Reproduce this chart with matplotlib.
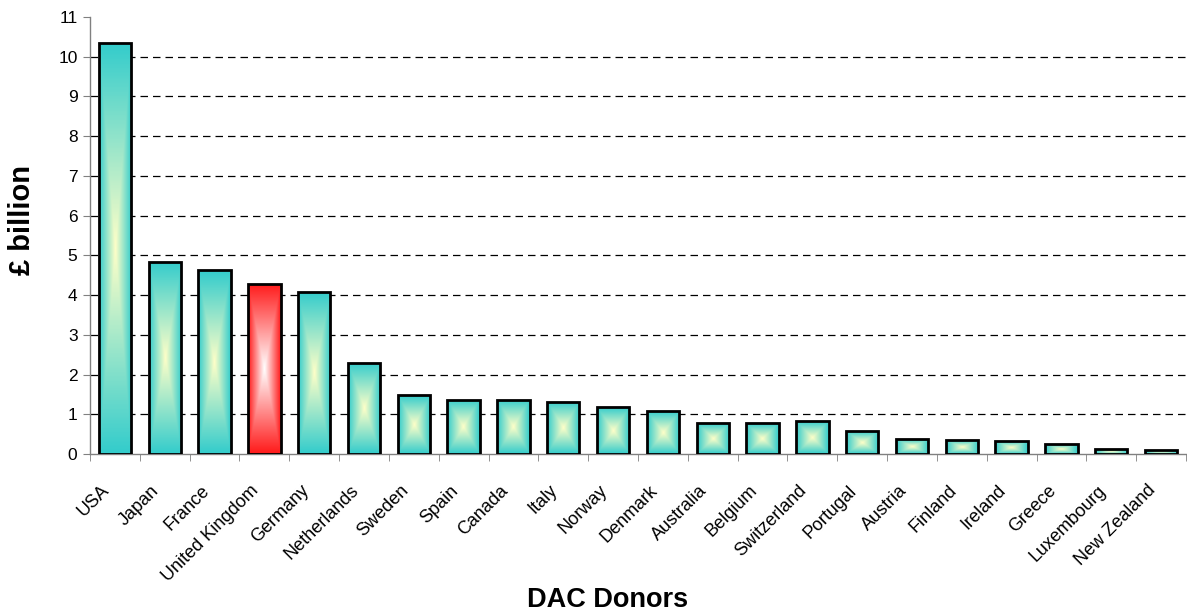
import numpy as np
import matplotlib
matplotlib.use("Agg")
import matplotlib.pyplot as plt
import matplotlib.transforms as mtransforms
from matplotlib.colors import LinearSegmentedColormap
from matplotlib.ticker import FixedLocator

plt.rcParams['font.family'] = ['Liberation Sans', 'DejaVu Sans']

# data (GBP billion)
donors = ['USA', 'Japan', 'France', 'United Kingdom', 'Germany', 'Netherlands',
          'Sweden', 'Spain', 'Canada', 'Italy', 'Norway', 'Denmark', 'Australia',
          'Belgium', 'Switzerland', 'Portugal', 'Austria', 'Finland', 'Ireland',
          'Greece', 'Luxembourg', 'New Zealand']
values = [10.35, 4.84, 4.62, 4.29, 4.09, 2.30, 1.48, 1.37, 1.37, 1.32, 1.18,
          1.08, 0.78, 0.78, 0.82, 0.57, 0.37, 0.35, 0.32, 0.25, 0.12, 0.11]
highlight = 'United Kingdom'
yticks = list(range(0, 12))

teal_map = LinearSegmentedColormap.from_list('teal', ['#FFFFC8', '#33CCCC'])
red_map = LinearSegmentedColormap.from_list('red', ['#FFFFFF', '#FF1A1A'])

fig = plt.figure(figsize=(11.87, 6.13), dpi=100)
ax = fig.add_axes([90 / 1187, 1 - 454 / 613, 1096 / 1187, 437 / 613])

x = np.arange(len(donors))
bars = ax.bar(x, values, width=0.65, facecolor='none', edgecolor='black',
              linewidth=2.0, zorder=3)

# rectangular "from centre" gradient inside each bar
u = np.linspace(-1, 1, 101)
U, V = np.meshgrid(u, np.linspace(-1, 1, 201))
grad = np.maximum(np.abs(U), np.abs(V))
for name, b in zip(donors, bars):
    cmap = red_map if name == highlight else teal_map
    x0, w, h = b.get_x(), b.get_width(), b.get_height()
    im = ax.imshow(grad, cmap=cmap, vmin=0, vmax=1, aspect='auto',
                   extent=(x0, x0 + w, 0, h), origin='lower', zorder=2,
                   interpolation='bilinear')
    im.set_clip_path(b)

# dashed gridlines (none at the top tick)
ax.hlines(yticks[1:-1], -0.5, len(donors) - 0.5, colors='black',
          linestyles=(0, (6, 4)), linewidth=0.9, zorder=1)

ax.set_xlim(-0.5, len(donors) - 0.5)
ax.set_ylim(0, 11)
ax.set_yticks(yticks)
ax.set_xticks(x)
ax.set_xticklabels([])
ax.xaxis.set_minor_locator(FixedLocator(np.arange(-0.5, len(donors), 1)))
ax.tick_params(axis='x', which='major', length=0)
ax.tick_params(axis='x', which='minor', length=5, color='#808080', direction='out')
ax.tick_params(axis='y', length=5, color='#808080', labelsize=12.5, pad=4)

# category labels, rotated and nudged like the original
lab_tr = ax.get_xaxis_transform() + mtransforms.ScaledTranslation(
    -0.14, -0.28, fig.dpi_scale_trans)
for xi, name in zip(x, donors):
    ax.text(xi, 0, name, transform=lab_tr, rotation=45, ha='right', va='top',
            rotation_mode='anchor', fontsize=13)

for s in ['top', 'right']:
    ax.spines[s].set_visible(False)
for s in ['left', 'bottom']:
    ax.spines[s].set_color('#808080')
    ax.spines[s].set_linewidth(1.0)

ax.set_ylabel('£ billion', fontsize=21, fontweight='bold')
ax.yaxis.set_label_coords(-0.049, 0.535)
ax.set_xlabel('DAC Donors', fontsize=19.5, fontweight='bold')
ax.xaxis.set_label_coords(0.472, -0.305)

fig.savefig('out.png', dpi=100)
